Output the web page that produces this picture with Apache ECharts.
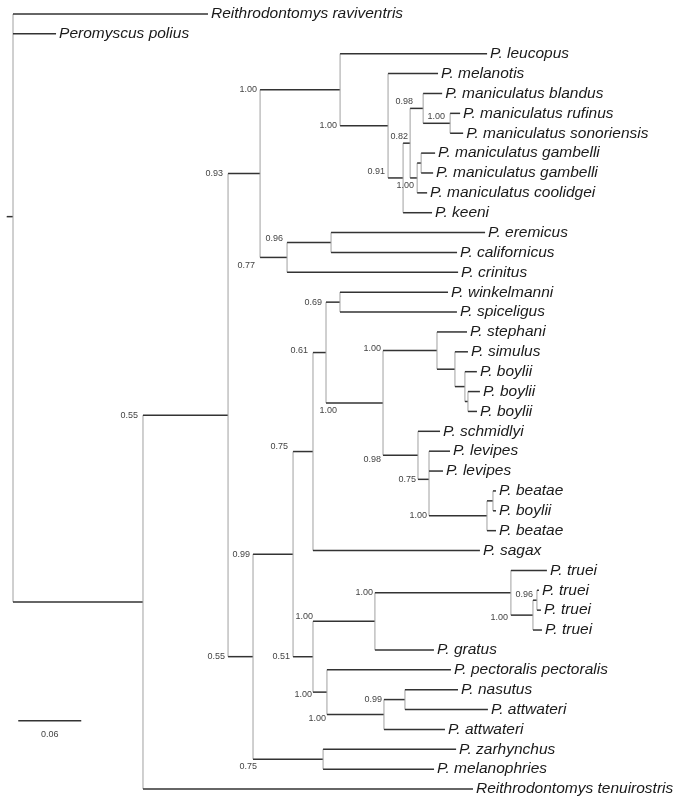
<!DOCTYPE html>
<html><head><meta charset="utf-8">
<script src="https://cdn.jsdelivr.net/npm/echarts@6/dist/echarts.min.js"></script>
<style>html,body{margin:0;padding:0;background:#fff}#chart{width:683px;height:806px}</style>
</head><body><div id="chart"></div>
<script>
// ---------------- DATA ----------------
// Terminal taxa, top to bottom
const leafNames = [
  'Reithrodontomys raviventris', 'Peromyscus polius', 'P. leucopus', 'P. melanotis',
  'P. maniculatus blandus', 'P. maniculatus rufinus', 'P. maniculatus sonoriensis',
  'P. maniculatus gambelli', 'P. maniculatus gambelli', 'P. maniculatus coolidgei', 'P. keeni',
  'P. eremicus', 'P. californicus', 'P. crinitus', 'P. winkelmanni', 'P. spiceligus',
  'P. stephani', 'P. simulus', 'P. boylii', 'P. boylii', 'P. boylii', 'P. schmidlyi',
  'P. levipes', 'P. levipes', 'P. beatae', 'P. boylii', 'P. beatae', 'P. sagax',
  'P. truei', 'P. truei', 'P. truei', 'P. truei', 'P. gratus', 'P. pectoralis pectoralis',
  'P. nasutus', 'P. attwateri', 'P. attwateri', 'P. zarhynchus', 'P. melanophries',
  'Reithrodontomys tenuirostris'
];
// internal node that each taxon hangs from
const leafParent = [0, 0, 4, 5, 8, 9, 9, 11, 11, 10, 6, 13, 13, 12, 18, 18, 20, 21, 22, 23, 23,
  24, 25, 25, 27, 27, 26, 16, 30, 32, 32, 31, 29, 33, 35, 35, 34, 36, 36, 1];
// terminal branch lengths (substitutions/site)
const leafLength = [0.1857, 0.0410, 0.1400, 0.0476, 0.0181, 0.0095, 0.0124, 0.0133, 0.0114, 0.0095,
  0.0276, 0.1467, 0.1200, 0.1629, 0.1029, 0.1114, 0.0286, 0.0124, 0.0114, 0.0114, 0.0086,
  0.0210, 0.0200, 0.0133, 0.0029, 0.0029, 0.0086, 0.1590, 0.0343, 0.0019, 0.0038, 0.0086,
  0.0562, 0.1181, 0.0505, 0.0790, 0.0581, 0.1267, 0.1057, 0.3143];
// internal nodes (0 = root): parent, branch length, posterior probability
const nodeParent = [-1, 0, 1, 2, 3, 4, 5, 6, 7, 8, 7, 10, 3, 12, 2, 14, 15, 16, 17, 17, 19,
  20, 21, 22, 19, 24, 25, 26, 15, 28, 29, 30, 31, 28, 33, 34, 14];
const nodeLength = [0, 0.1238, 0.0810, 0.0305, 0.0762, 0.0457, 0.0143, 0.0067, 0.0124, 0.0257,
  0.0067, 0.0038, 0.0257, 0.0419, 0.0238, 0.0381, 0.0190, 0.0124, 0.0133, 0.0543, 0.0514,
  0.0171, 0.0095, 0.0029, 0.0333, 0.0105, 0.0552, 0.0057, 0.0190, 0.0590, 0.1295, 0.0210,
  0.0038, 0.0133, 0.0543, 0.0200, 0.0667];
const nodeSupport = [null, null, '0.55', '0.93', '1.00', '1.00', '0.91', '0.82', '0.98', '1.00',
  '1.00', null, '0.77', '0.96', '0.55', '0.99', '0.75', '0.61', '0.69', '1.00', '1.00',
  null, null, null, '0.98', '0.75', '1.00', null, '0.51', '1.00', '1.00', '1.00', '0.96',
  '1.00', '1.00', '0.99', '0.75'];
const scaleBarLength = 0.06;
const scaleBarText = '0.06';

// ---------------- STYLE (label placement, px offsets) ----------------
const supportOffset = {
  2: [-5, 0], 3: [-5, 0], 4: [-3, 0], 5: [-3, 0], 6: [-3, -6], 7: [5, -7], 8: [3, -7],
  9: [22, -7], 10: [4, 8], 12: [-5, 8], 13: [-4, -4], 14: [-3, 0], 15: [-3, 0], 16: [-5, -5],
  17: [-5, -2], 18: [-4, 0], 19: [11, 8], 20: [-2, -2], 24: [-2, 4], 25: [-2, 0], 26: [-2, 0],
  28: [-3, 0], 29: [0, -5], 30: [-2, 0], 31: [-3, 2], 32: [0, -6], 33: [-1, 2], 34: [-1, 4],
  35: [-2, 0], 36: [4, 7]
};
const H_COLOR = '#333333', V_COLOR = '#a0a0a0';

// ---------------- LAYOUT ----------------
const nInt = nodeParent.length;
const depth = [];
for (let i = 0; i < nInt; i++) depth[i] = nodeParent[i] < 0 ? 0 : depth[nodeParent[i]] + nodeLength[i];
const kidsY = Array.from({ length: nInt }, () => []);
leafParent.forEach((p, i) => kidsY[p].push(i));
const nodeY = new Array(nInt);
for (let i = nInt - 1; i >= 0; i--) {
  nodeParent.forEach((p, j) => { if (p === i) kidsY[i].push(nodeY[j]); });
  nodeY[i] = kidsY[i].reduce((a, b) => a + b, 0) / kidsY[i].length;
}
const items = [];
for (let i = 0; i < nInt; i++) {
  const p = nodeParent[i];
  const x0 = p < 0 ? -0.006 : depth[p];
  items.push([x0, depth[i], nodeY[i], Math.min(...kidsY[i]), Math.max(...kidsY[i]), 0, i]);
}
leafNames.forEach((n, i) => {
  const x0 = depth[leafParent[i]];
  items.push([x0, x0 + leafLength[i], i, i, i, 1, i]);
});
items.push([0.005, 0.005 + scaleBarLength, 35.57, 35.57, 35.57, 2, 0]);

function renderItem(params, api) {
  const x0 = api.value(0), x1 = api.value(1), y = api.value(2);
  const kind = api.value(5), idx = api.value(6);
  const p0 = api.coord([x0, y]), p1 = api.coord([x1, y]);
  const ch = [];
  ch.push({ type: 'line', shape: { x1: p0[0], y1: p0[1], x2: p1[0], y2: p1[1] },
    style: { stroke: H_COLOR, lineWidth: 1.5 } });
  if (kind === 0) {
    const a = api.coord([x1, api.value(3)]), b = api.coord([x1, api.value(4)]);
    ch.push({ type: 'line', shape: { x1: a[0], y1: a[1], x2: b[0], y2: b[1] },
      style: { stroke: V_COLOR, lineWidth: 1 } });
    const s = nodeSupport[idx];
    if (s) {
      const off = supportOffset[idx] || [-3, 0];
      ch.push({ type: 'text', style: { text: s, x: p0[0] + off[0], y: p0[1] + off[1],
        align: 'right', verticalAlign: 'middle', fill: '#444',
        font: '9px "Liberation Sans", Arial, sans-serif' } });
    }
  } else if (kind === 1) {
    ch.push({ type: 'text', style: { text: leafNames[idx], x: p1[0] + 3, y: p1[1],
      align: 'left', verticalAlign: 'middle', fill: '#1a1a1a',
      font: 'italic 15.5px "Liberation Sans", Arial, sans-serif' } });
  } else {
    ch[0].style = { stroke: '#333', lineWidth: 1.5 };
    ch.push({ type: 'text', style: { text: scaleBarText, x: (p0[0] + p1[0]) / 2, y: p0[1] + 14,
      align: 'center', verticalAlign: 'middle', fill: '#444',
      font: '9px "Liberation Sans", Arial, sans-serif' } });
  }
  return { type: 'group', children: ch };
}

const chart = echarts.init(document.getElementById('chart'), null, { renderer: 'canvas' });
chart.setOption({
  animation: false,
  backgroundColor: '#fff',
  grid: { left: 2.5, right: 40, top: 14, bottom: 17 },
  xAxis: { type: 'value', min: -0.01, max: 0.6, show: false },
  yAxis: { type: 'value', min: 0, max: 39, inverse: true, show: false },
  series: [{ type: 'custom', renderItem, data: items, clip: false,
    encode: { x: [0, 1], y: [2, 3, 4] }, silent: true }]
});
</script></body></html>
